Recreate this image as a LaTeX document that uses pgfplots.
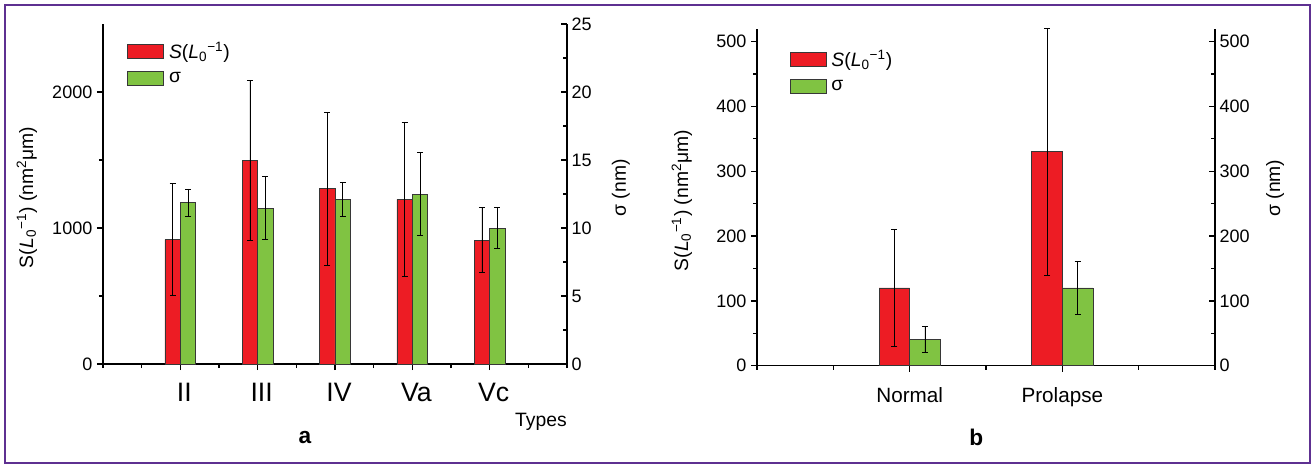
\documentclass[border=0pt]{standalone}
\usepackage{pgfplots}
\pgfplotsset{compat=1.18}
\usepackage{fontspec}
\setmainfont{Liberation Sans}
\definecolor{barred}{RGB}{237,28,36}
\definecolor{bargreen}{RGB}{128,195,66}
\definecolor{framepurple}{RGB}{94,48,145}
\definecolor{bardraw}{RGB}{55,55,55}
\pgfplotsset{
  common/.style={
    scale only axis,
    enlargelimits=false,
    clip=false,
    ybar,
    bar width=0.2,
    /pgf/number format/assume math mode=true,
    /pgf/number format/1000 sep={},
    scaled y ticks=false,
    tick label style={font=\fontsize{13.5}{15}\selectfont},
    axis line style={line width=1.1pt},
    major tick length=4.5pt,
    minor tick length=3pt,
    major tick style={line width=1pt, black},
    minor tick style={line width=0.9pt, black},
    label style={font=\fontsize{14.5}{16}\selectfont},
  },
  errs/.style={error bars/.cd, y dir=both, y explicit,
     error bar style={line width=0.5pt, black},
     error mark options={rotate=90, mark size=2.2pt, line width=0.5pt, black}},
  mylegend/.style={legend image code/.code={\draw[##1] (0pt,-5.25pt) rectangle (27pt,5.25pt); \path[draw=none,fill=none] (0pt,0pt) -- (29pt,0pt);}},
  legstyle/.style={legend style={draw=none, fill=none, inner sep=0pt, row sep=5pt,
     font=\fontsize{14.5}{16}\selectfont, legend cell align=left}},
}
\begin{document}
\begin{tikzpicture}
\useasboundingbox (0,0) rectangle (985.5pt,348.75pt);
\draw[framepurple, line width=1.6pt] (3.75pt,1.6pt) rectangle (982.5pt,345pt);

% ---------- panel a, left axis ----------
\begin{axis}[common, at={(77.25pt,75.75pt)}, anchor=south west,
  width=348pt, height=255pt,
  xmin=0, xmax=6, ymin=0, ymax=2500,
  axis x line*=bottom, axis y line*=left, tick align=outside,
  xtick={1,2,3,4,5}, xticklabels={II,III,IV,Va,Vc},
  xticklabel style={font=\fontsize{20}{22}\selectfont, xshift=3pt, yshift=-6.5pt},
  minor xtick={0,0.5,1.5,2.5,3.5,4.5,5.5,6},
  ytick={0,1000,2000}, minor ytick={500,1500},
  ylabel={S(\textit{L}\textsubscript{0}\textsuperscript{−1}) (nm\textsuperscript{2}μm)},
  ylabel style={at={(axis description cs:-0.164,0.49)}, anchor=center},
  legstyle,
  legend style={at={(axis description cs:0.052,0.955)}, anchor=north west},
]
\addplot[fill=barred, draw=bardraw, line width=0.5pt, bar shift=-0.1, mylegend, errs]
  coordinates {(1,915) +- (0,410) (2,1500) +- (0,588) (3,1290) +- (0,561) (4,1211) +- (0,566) (5,911) +- (0,238)};
\addlegendentry{\textit{S}(\textit{L}\textsubscript{0}\textsuperscript{−1})}
\addlegendimage{fill=bargreen, draw=bardraw, line width=0.5pt, mylegend}
\addlegendentry{σ}
\node[font=\fontsize{14.5}{16}\selectfont] at (axis description cs:0.944,-0.171) {Types};
\node[font=\bfseries\fontsize{17}{19}\selectfont] at (axis description cs:0.435,-0.215) {a};
\end{axis}

% ---------- panel a, right axis ----------
\begin{axis}[common, at={(77.25pt,75.75pt)}, anchor=south west,
  width=348pt, height=255pt,
  xmin=0, xmax=6, ymin=0, ymax=25,
  axis x line=none, axis y line*=right, tick align=inside,
  ytick={0,5,10,15,20,25}, minor ytick={2.5,7.5,12.5,17.5,22.5},
  ylabel={σ (nm)},
  ylabel style={at={(axis description cs:1.116,0.518)}, anchor=center},
]
\addplot[fill=bargreen, draw=bardraw, line width=0.5pt, bar shift=0.1, errs]
  coordinates {(1,11.87) +- (0,1.0) (2,11.47) +- (0,2.31) (3,12.11) +- (0,1.22) (4,12.5) +- (0,3.03) (5,10.0) +- (0,1.5)};
\end{axis}

% ---------- panel b, left axis ----------
\begin{axis}[common, at={(567.75pt,74.5pt)}, anchor=south west,
  width=343.5pt, height=252.75pt,
  xmin=0, xmax=3, ymin=0, ymax=520,
  axis x line*=bottom, axis y line*=left, tick align=outside,
  xtick={1,2}, xticklabels={Normal,Prolapse},
  xticklabel style={font=\fontsize{15.5}{17}\selectfont, yshift=-8.5pt},
  minor xtick={0,0.5,1.5,2.5,3},
  ytick={0,100,200,300,400,500}, minor ytick={50,150,250,350,450},
  ylabel={S(\textit{L}\textsubscript{0}\textsuperscript{−1}) (nm\textsuperscript{2}μm)},
  ylabel style={at={(axis description cs:-0.164,0.49)}, anchor=center},
  legstyle,
  legend style={at={(axis description cs:0.071,0.945)}, anchor=north west},
]
\addplot[fill=barred, draw=bardraw, line width=0.5pt, bar shift=-0.1, mylegend, errs]
  coordinates {(1,120) +- (0,90.5) (2,330) +- (0,190)};
\addlegendentry{\textit{S}(\textit{L}\textsubscript{0}\textsuperscript{−1})}
\addlegendimage{fill=bargreen, draw=bardraw, line width=0.5pt, mylegend}
\addlegendentry{σ}
\node[font=\bfseries\fontsize{17}{19}\selectfont] at (axis description cs:0.479,-0.212) {b};
\end{axis}

% ---------- panel b, right axis ----------
\begin{axis}[common, at={(567.75pt,74.5pt)}, anchor=south west,
  width=343.5pt, height=252.75pt,
  xmin=0, xmax=3, ymin=0, ymax=520,
  axis x line=none, axis y line*=right, tick align=inside,
  ytick={0,100,200,300,400,500}, minor ytick={50,150,250,350,450},
  ylabel={σ (nm)},
  ylabel style={at={(axis description cs:1.131,0.527)}, anchor=center},
]
\addplot[fill=bargreen, draw=bardraw, line width=0.5pt, bar shift=0.1, errs]
  coordinates {(1,40) +- (0,20) (2,120) +- (0,40.5)};
\end{axis}
\end{tikzpicture}
\end{document}
